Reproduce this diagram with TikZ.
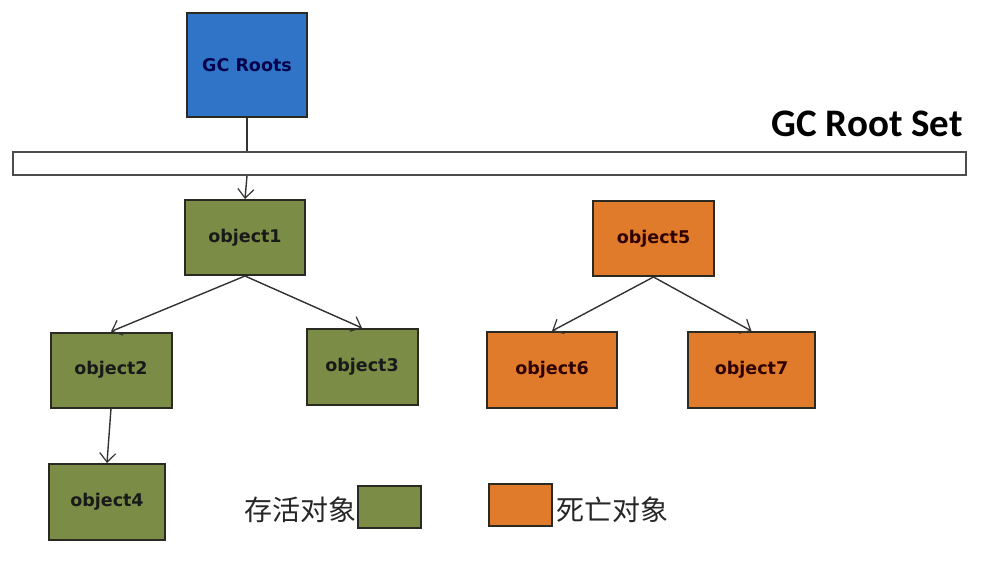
\documentclass[tikz,border=0pt]{standalone}
\usepackage{fontspec}
\setmainfont{DejaVu Sans}
\newfontfamily\cjk{Noto Sans CJK SC}
\newfontfamily\calib{Carlito}
\usetikzlibrary{arrows.meta}
\definecolor{gcblue}{HTML}{2F74C6}
\definecolor{livegreen}{HTML}{7A8C46}
\definecolor{deadorange}{HTML}{E07B2C}
\definecolor{edgedark}{HTML}{2A2A22}
\tikzset{
  x=1pt,y=-1pt,
  obj/.style={draw=edgedark,line width=2pt,minimum width=120pt,minimum height=75pt,inner sep=0pt,font=\fontsize{17.5}{19}\selectfont\bfseries},
  live/.style={obj,fill=livegreen,text=black!90},
  dead/.style={obj,fill=deadorange,text=black!70!red!60!black},
  link/.style={draw=black!80,line width=1.4pt,-{Straight Barb[length=9pt,width=16pt,line width=1.2pt]}},
  legendbox/.style={draw=edgedark,line width=2pt,minimum width=63pt,minimum height=42pt,inner sep=0pt},
  legendtext/.style={font=\cjk\fontsize{28}{30}\selectfont,text=black!85,inner sep=0pt}
}
\begin{document}
\begin{tikzpicture}
\useasboundingbox (0,0) rectangle (1006,572);
\fill[white] (0,0) rectangle (1006,572);
% GC Roots
\node[obj,fill=gcblue,minimum width=120pt,minimum height=104pt,text=blue!30!black] (roots) at (247,65) {GC Roots};
% root set bar
\node[draw=black!70,line width=1.6pt,minimum width=953pt,minimum height=23pt,inner sep=0pt,fill=white] (bar) at (489.5,163.5) {};
\node[anchor=east,font=\calib\fontsize{39}{41}\selectfont\bfseries,inner sep=0pt] (rsl) at (963,124) {GC Root Set};
% objects
\node[live] (o1) at (245,237.5) {object1};
\node[live,minimum width=121pt] (o2) at (111,370) {object2};
\node[live,minimum width=111pt,minimum height=76pt] (o3) at (362,367) {object3};
\node[live,minimum width=116pt,minimum height=76pt] (o4) at (107,502) {object4};
\node[dead,minimum width=121pt] (o5) at (653.5,238.5) {object5};
\node[dead,minimum width=130pt,minimum height=76pt] (o6) at (552,370) {object6};
\node[dead,minimum width=127pt,minimum height=76pt] (o7) at (751.5,370) {object7};
% connectors
\draw[draw=black!80,line width=1.4pt] (roots.south) -- (roots.south |- bar.north);
\draw[link] (roots.south |- bar.south) -- (o1.north);
\draw[link] (o1.south) -- (o2.north);
\draw[link] (o1.south) -- (o3.north);
\draw[link] (o2.south) -- (o4.north);
\draw[link] (o5.south) -- (o6.north);
\draw[link] (o5.south) -- (o7.north);
% legend
\node[legendbox,fill=livegreen] (lg) at (389,506.5) {};
\node[legendtext,anchor=east] (lgt) at (357,510) {存活对象};
\node[legendbox,fill=deadorange] (ld) at (520,505) {};
\node[legendtext,anchor=west] (ldt) at (556,510) {死亡对象};
\end{tikzpicture}
\end{document}
